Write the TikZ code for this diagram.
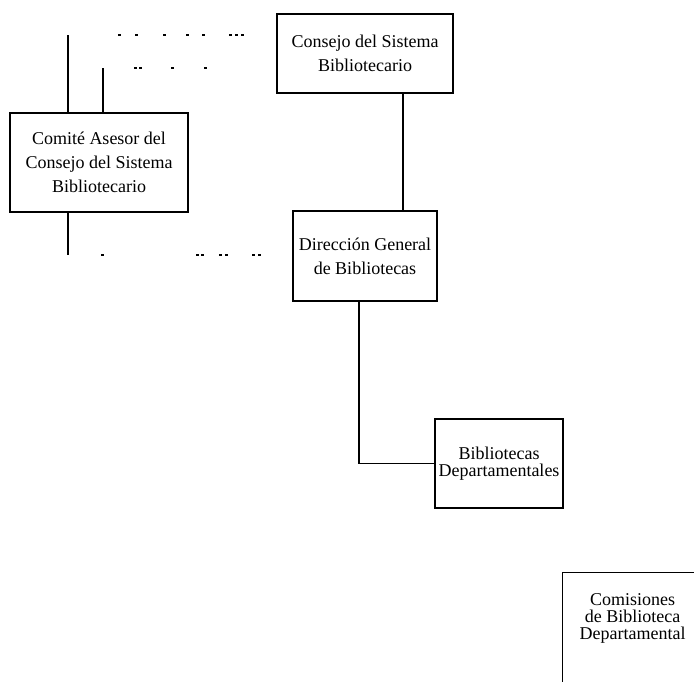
\documentclass[tikz,border=0pt]{standalone}
\usepackage{fontspec}
\setmainfont{Liberation Serif}
\usepackage{tikz}
\usetikzlibrary{positioning}

\tikzset{
	orgbox/.style={draw, line width=1.4pt, align=center, inner sep=0pt,
		font=\fontsize{18}{24}\selectfont},
	tightbox/.style={orgbox, font=\fontsize{18}{17}\selectfont},
	link/.style={line width=1.6pt},
	speck/.style={line width=1.4pt}
}

\begin{document}
\begin{tikzpicture}[x=1pt, y=-1pt]
		\useasboundingbox (0,0) rectangle (694,681);
		
		\node [orgbox, minimum width=176pt, minimum height=79pt] (consejo) at (365, 53.5) {Consejo del Sistema\\Bibliotecario};
		
		\node [orgbox, minimum width=178pt, minimum height=99pt] (comite) at (99, 162.5) {Comité Asesor del\\Consejo del Sistema\\Bibliotecario};
		
		\node [orgbox, minimum width=144pt, minimum height=90pt] (direccion) at (365, 256) {Dirección General\\de Bibliotecas};
		
		\node [tightbox, minimum width=128pt, minimum height=89pt] (bibdep) at (499, 463.5) {Bibliotecas\\Departamentales};
		
		% cut off at the page edge
		\node [tightbox, anchor=north west, minimum width=140pt, minimum height=130pt] (comisiones) at (562, 572) {Comisiones\\de Biblioteca\\Departamental\\[26pt]\mbox{}};
		
		\draw [link] ([xshift=38pt]consejo.south) -- ([xshift=38pt]direccion.north);
		\draw [link] ([xshift=-6pt]direccion.south) |- (bibdep.west);
		
		% lines to the left of the committee
		\coordinate (ltop) at (68, 35);
		\coordinate (mtop) at (103, 68);
		\coordinate (lbot) at (68, 255);
		\draw [link] (ltop) -- (ltop |- comite.north);
		\draw [link] (mtop) -- (mtop |- comite.north);
		\draw [link] (lbot |- comite.south) -- (lbot);
		
		\foreach \x in {119, 136, 164, 187, 203, 230, 236, 242}
			\draw [speck] (\x-1, 35) -- (\x+1.5, 35);
		\foreach \x in {135, 140, 172, 205}
			\draw [speck] (\x-1, 68) -- (\x+1.5, 68);
		\foreach \x in {102, 197, 202, 220, 226, 253, 259}
			\draw [speck] (\x-1, 255) -- (\x+1.5, 255);
	\end{tikzpicture}
\end{document}
